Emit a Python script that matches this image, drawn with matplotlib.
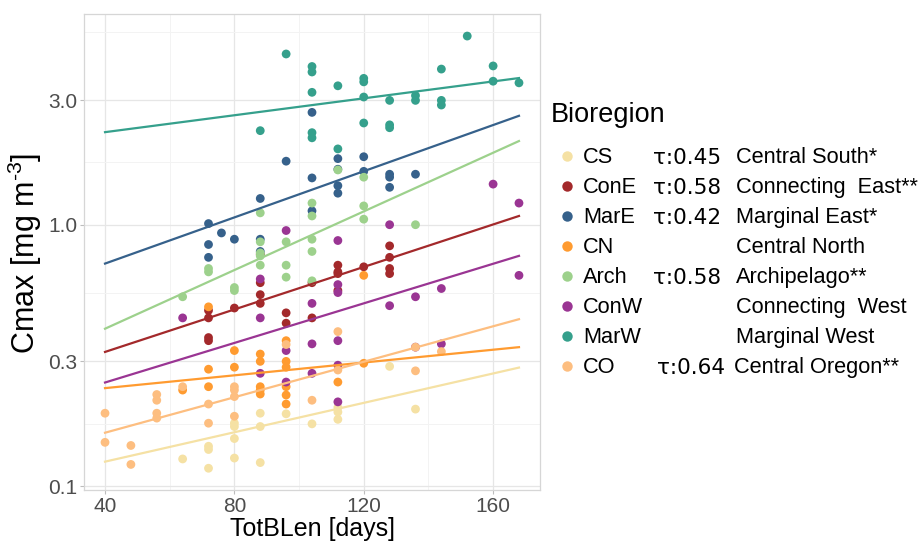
import numpy as np
import matplotlib
matplotlib.use("Agg")
import matplotlib.pyplot as plt

# ---- data ----
regions = ["CS", "ConE", "MarE", "CN", "Arch", "ConW", "MarW", "CO"]
taus = ["τ:0.45", "τ:0.58", "τ:0.42", "", "τ:0.58", "", "", "τ:0.64"]
names = ["Central South*", "Connecting  East**", "Marginal East*", "Central North",
         "Archipelago**", "Connecting  West", "Marginal West", "Central Oregon**"]
colors = ["#F5E1A4", "#A3292B", "#36618B", "#FF9B30", "#9DD18C", "#9A3593", "#35A08C", "#FDBE80"]

cs_x = [64, 72, 72, 72, 80, 80, 80, 80, 88, 88, 88, 96, 104, 112, 112, 112, 128, 136]
cs_y = [0.127, 0.142, 0.138, 0.117, 0.174, 0.169, 0.152, 0.128, 0.19, 0.169, 0.123,
        0.189, 0.173, 0.20, 0.192, 0.18, 0.287, 0.197]

cone_x = [72, 72, 72, 72, 80, 88, 88, 88, 88, 96, 96, 104, 104, 112, 112, 112, 112,
          120, 128, 128, 128, 128]
cone_y = [0.47, 0.44, 0.37, 0.36, 0.48, 0.77, 0.60, 0.54, 0.50, 0.46, 0.42, 0.60, 0.44,
          0.70, 0.66, 0.65, 0.56, 0.69, 0.83, 0.75, 0.68, 0.65]

mare_x = [72, 72, 72, 76, 80, 88, 88, 88, 96, 104, 104, 104, 112, 112, 112, 112, 120,
          120, 128, 128, 128, 136]
mare_y = [1.01, 0.84, 0.75, 0.93, 0.88, 1.26, 0.88, 0.79, 1.75, 2.69, 1.51, 1.13, 1.79,
          1.63, 1.41, 1.32, 1.82, 1.60, 1.56, 1.52, 1.39, 1.56]

cn_x = [64, 72, 72, 72, 80, 80, 88, 88, 88, 88, 88, 96, 96, 96, 96, 96, 96, 112, 120, 120]
cn_y = [0.233, 0.485, 0.28, 0.24, 0.33, 0.285, 0.32, 0.30, 0.24, 0.233, 0.225, 0.36,
        0.30, 0.285, 0.24, 0.223, 0.206, 0.25, 0.64, 0.295]

arch_x = [64, 72, 72, 80, 80, 88, 88, 88, 88, 88, 96, 96, 96, 104, 104, 104, 104, 104,
          112, 120, 120, 120, 136]
arch_y = [0.53, 0.68, 0.66, 0.575, 0.56, 1.11, 0.86, 0.78, 0.76, 0.70, 0.86, 0.70, 0.63,
          1.21, 1.08, 0.88, 0.79, 0.61, 1.62, 1.52, 1.18, 1.05, 1.00]

conw_x = [64, 88, 88, 88, 96, 96, 96, 104, 104, 104, 112, 112, 112, 112, 112, 112, 128,
          128, 136, 136, 144, 144, 160, 168, 168]
conw_y = [0.44, 0.62, 0.44, 0.27, 0.95, 0.33, 0.25, 0.50, 0.35, 0.27, 0.87, 0.59, 0.55,
          0.36, 0.29, 0.21, 1.00, 0.49, 0.53, 0.34, 0.57, 0.35, 1.43, 1.21, 0.64]

marw_x = [88, 96, 104, 104, 104, 104, 104, 112, 112, 120, 120, 120, 120, 128, 128, 128,
          136, 136, 144, 144, 144, 152, 160, 160, 168]
marw_y = [2.29, 4.50, 4.03, 3.84, 3.21, 2.25, 2.15, 3.40, 1.95, 3.63, 3.52, 3.08, 2.45,
          2.99, 2.41, 2.35, 3.12, 2.99, 3.94, 2.99, 2.87, 5.27, 4.05, 3.54, 3.49]

co_x = [40, 40, 48, 48, 56, 56, 56, 56, 64, 72, 72, 80, 80, 80, 80, 96, 104, 112, 112,
        136, 136, 144]
co_y = [0.19, 0.147, 0.143, 0.121, 0.224, 0.213, 0.19, 0.182, 0.24, 0.206, 0.174, 0.24,
        0.233, 0.22, 0.185, 0.348, 0.213, 0.39, 0.278, 0.34, 0.276, 0.327]

# fitted trend lines: values at the ends of the x range
fit_x = [40, 168]
fit_lo = [0.124, 0.326, 0.71, 0.237, 0.40, 0.249, 2.26, 0.160]
fit_hi = [0.284, 1.08, 2.61, 0.34, 2.09, 0.76, 3.64, 0.435]

xs = [cs_x, cone_x, mare_x, cn_x, arch_x, conw_x, marw_x, co_x]
ys = [cs_y, cone_y, mare_y, cn_y, arch_y, conw_y, marw_y, co_y]

W, H = 919, 542
plt.rcParams['font.family'] = ['Liberation Sans', 'DejaVu Sans']
plt.rcParams['mathtext.fontset'] = 'custom'
plt.rcParams['mathtext.rm'] = 'Liberation Sans'
plt.rcParams['mathtext.default'] = 'rm'
fig = plt.figure(figsize=(W / 100, H / 100), dpi=100)
ax = fig.add_axes([84 / W, 52 / H, 456 / W, 476 / H])

for i in range(len(regions)):
    ax.scatter(xs[i], ys[i], s=40, color=colors[i], edgecolors='none', zorder=3)
for i in range(len(regions)):
    ax.plot(fit_x, [fit_lo[i], fit_hi[i]], color=colors[i], lw=1.6, zorder=4)

ax.set_yscale('log')
ax.set_xlim(33.5, 174.5)
ax.set_ylim(0.0966, 6.4)
ax.set_xticks([40, 80, 120, 160])
ax.set_xticks([60, 100, 140], minor=True)
yt = [0.1, 0.3, 1.0, 3.0]
ax.set_yticks(yt)
ax.set_yticklabels(["0.1", "0.3", "1.0", "3.0"])
ax.set_yticks([10 ** ((np.log10(yt[k]) + np.log10(yt[k + 1])) / 2) for k in range(3)]
              + [10 ** ((np.log10(3.0) + 1.0) / 2)], minor=True)
ax.yaxis.set_minor_formatter(matplotlib.ticker.NullFormatter())
ax.grid(True, which='major', color='#E6E6E6', lw=0.9, zorder=0)
ax.grid(True, which='minor', color='#F3F3F3', lw=0.7, zorder=0)
ax.set_axisbelow(True)
ax.tick_params(which='major', length=3, color='#BDBDBD', labelsize=15,
               labelcolor='#4D4D4D', pad=2)
ax.tick_params(which='minor', length=0)
for s in ax.spines.values():
    s.set_color('#D6D6D6')
    s.set_linewidth(0.9)

fig.text(25 / W, 1 - 253 / H, 'Cmax [mg m$^{\\text{-3}}$]', rotation=90, ha='center',
         va='center', fontsize=22)
fig.text(312 / W, 1 - 529 / H, 'TotBLen [days]', ha='center', va='center', fontsize=18)

# legend drawn by hand
fig.text(551 / W, 1 - 115 / H, 'Bioregion', ha='left', va='center', fontsize=19.5)
for i in range(len(regions)):
    yy = 1 - (156 + 30 * i) / H
    ty = 1 - (157.5 + 30 * i) / H
    fig.add_artist(plt.Line2D([566.7 / W], [yy], marker='o', markersize=7.5,
                              color=colors[i], markeredgewidth=0, transform=fig.transFigure))
    fig.text(583 / W, ty, regions[i], ha='left', va='center', fontsize=15.7)
    fig.text((657 if i == 7 else 653) / W, ty, taus[i], ha='left', va='center',
             fontsize=15.5, family='DejaVu Sans')
    fig.text((734 if i == 7 else 736) / W, ty, names[i], ha='left', va='center', fontsize=15.7)

fig.savefig('out.png', dpi=100)
